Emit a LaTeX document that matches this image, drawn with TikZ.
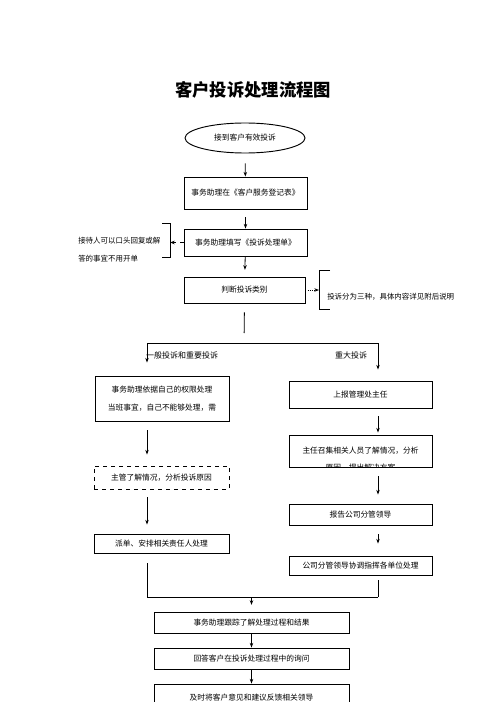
\documentclass[tikz,border=0pt]{standalone}
\usepackage{fontspec}
\setmainfont{Noto Sans CJK SC}
\usetikzlibrary{positioning, shapes.geometric, arrows.meta}

\begin{document}
\begin{tikzpicture}[x=0.75pt, y=-0.75pt,
    box/.style={draw, line width=0.7pt, inner sep=0pt, font=\fontsize{5.8}{13.5}\selectfont, align=center},
    note/.style={inner sep=0pt, font=\fontsize{5.6}{13.5}\selectfont, align=left},
    lbl/.style={inner sep=0pt, font=\fontsize{6}{7}\selectfont},
    flow/.style={line width=0.6pt, -{Stealth[length=3.5pt, width=2.6pt]}},
    seg/.style={line width=0.6pt}]
      \useasboundingbox (0,0) rectangle (496,702);
      \clip (0,0) rectangle (496,702);

      % Title
      \node[font=\fontsize{13}{15}\selectfont\bfseries] (title) at (253,90) {客户投诉处理流程图};

      % Upper boxes
      \node[ellipse, draw, line width=0.7pt, minimum width=90pt, minimum height=22.5pt, inner sep=0pt,
            font=\fontsize{5.8}{7}\selectfont] (start) at (245,138) {接到客户有效投诉};
      \node[box, minimum width=92.25pt, minimum height=24pt] (reg) at (245.5,193) {事务助理在《客户服务登记表》};
      \node[box, minimum width=92.25pt, minimum height=20.25pt] (fill) at (245.5,242.5) {事务助理填写《投诉处理单》};
      \node[box, minimum width=90.75pt, minimum height=19.5pt] (judge) at (244.5,290) {判断投诉类别};

      % Side notes
      \draw[seg] (162,223) -- (170,223) -- (170,257) -- (162,257);
      \coordinate (lb) at (170,242.5);
      \node[note, anchor=west] (lnote) at (78,250) {接待人可以口头回复或解\\答的事宜不用开单};
      \draw[seg] (330,270) -- (319,270) -- (319,309) -- (330,309);
      \coordinate (rb) at (319,290);
      \node[note, anchor=west] (rnote) at (327,297) {投诉分为三种，具体内容详见附后说明};

      % Left branch
      \node[box, minimum width=100.5pt, minimum height=33.75pt] (gen) at (162,398.5)
            {事务助理依据自己的权限处理\\当班事宜，自己不能够处理，需};
      \node[box, dashed, minimum width=101.25pt, minimum height=17.25pt] (super) at (161.5,477.5) {主管了解情况，分析投诉原因};
      \node[box, minimum width=101.25pt, minimum height=14.25pt] (dispatch) at (161.5,543.5) {派单、安排相关责任人处理};

      % Right branch
      \node[box, minimum width=107.25pt, minimum height=20.25pt] (major) at (360.5,394.5) {上报管理处主任};
      \node[box, minimum width=107.25pt, minimum height=24pt] (director) at (360.5,451) {主任召集相关人员了解情况，分析};
      \begin{scope}
        \clip (director.south west) rectangle (director.north east);
        \node[lbl, font=\fontsize{5.8}{7}\selectfont] (dirmore) at (360.5,468) {原因，提出解决方案};
      \end{scope}
      \node[box, minimum width=107.25pt, minimum height=15.75pt] (report) at (360.5,514.5) {报告公司分管领导};
      \node[box, minimum width=107.25pt, minimum height=14.25pt] (coord) at (360.5,565.5) {公司分管领导协调指挥各单位处理};

      % Lower boxes
      \node[box, minimum width=146.25pt, minimum height=15.75pt] (track) at (251.5,622.5) {事务助理跟踪了解处理过程和结果};
      \node[box, minimum width=146.25pt, minimum height=15.75pt] (answer) at (251.5,658.5) {回答客户在投诉处理过程中的询问};
      \node[box, minimum width=146.25pt, minimum height=21pt] (feedback) at (251.5,698) {及时将客户意见和建议反馈相关领导};

      % Split and join points
      \coordinate (split) at (244,343);
      \coordinate (hl) at (147,343);
      \coordinate (hr) at (378,343);
      \coordinate (jl) at (147,597);
      \coordinate (jr) at (378,597);
      \coordinate (jm) at (track.north |- jl);

      % Branch labels
      \node[lbl] (genlbl) at (182,355) {一般投诉和重要投诉};
      \node[lbl] (majlbl) at (351,355) {重大投诉};

      % Connectors
      \draw[flow, shorten <=7.5pt] (start) -- (reg);
      \draw[flow, shorten <=6pt] (reg) -- (fill);
      \draw[flow, shorten >=5pt] (fill) -- (judge);
      \draw[flow, dashed] (fill.west) -- (lb);
      \draw[flow, densely dotted] (judge.east) -- (rb);
      \draw[seg, shorten <=6.75pt, shorten >=7.5pt] (judge.south) -- (split);
      \draw[seg] (hl) -- (hr);
      \draw[flow, shorten >=9.75pt] (hl) -- (hl |- gen.north);
      \draw[flow, shorten >=8.25pt] (hr) -- (hr |- major.north);

      \draw[flow, shorten <=6.75pt, shorten >=8.25pt] (hl |- gen.south) -- (hl |- super.north);
      \draw[flow, shorten <=6pt, shorten >=6.75pt] (hl |- super.south) -- (hl |- dispatch.north);
      \draw[seg, shorten <=7.5pt] (hl |- dispatch.south) -- (jl);

      \draw[flow, shorten <=6pt, shorten >=1.5pt] (hr |- major.south) -- (hr |- director.north);
      \draw[flow, shorten <=6.75pt, shorten >=6.75pt] (hr |- director.south) -- (hr |- report.north);
      \draw[flow, shorten <=6.75pt, shorten >=9pt] (hr |- report.south) -- (hr |- coord.north);
      \draw[seg, shorten <=3.75pt] (hr |- coord.south) -- (jr);

      \draw[seg] (jl) -- (jr);
      \draw[flow, shorten >=5pt] (jm) -- (track);
      \draw[flow] (track) -- (answer);
      \draw[flow] (answer) -- (feedback);
\end{tikzpicture}
\end{document}
